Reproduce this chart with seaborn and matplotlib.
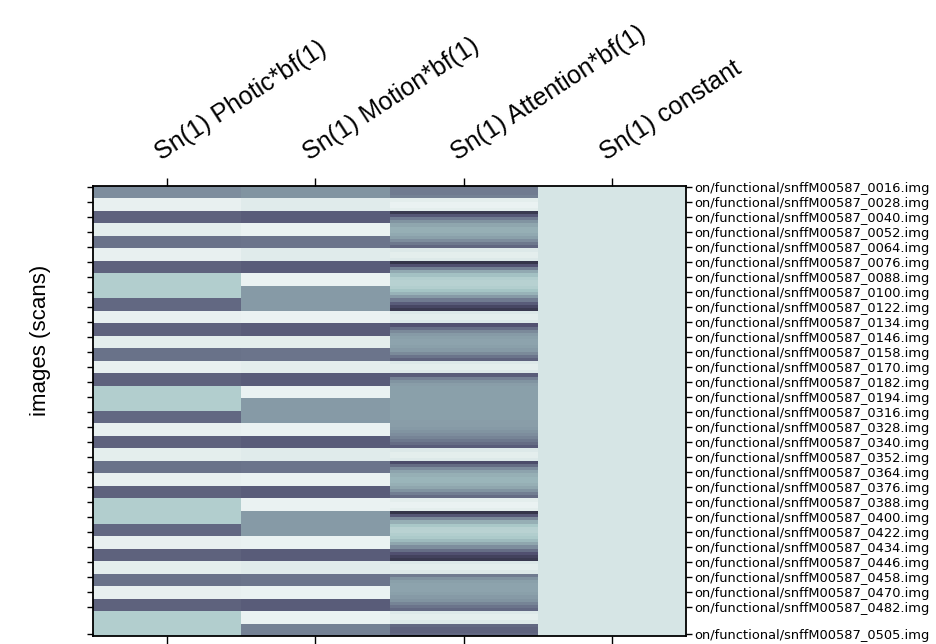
import numpy as np
import pandas as pd
import seaborn as sns
import matplotlib
matplotlib.use("Agg")
import matplotlib.pyplot as plt
from matplotlib.transforms import ScaledTranslation

# SPM design matrix: 4 regressors, 36 blocks of 10 scans
columns = ["Sn(1) Photic*bf(1)", "Sn(1) Motion*bf(1)",
           "Sn(1) Attention*bf(1)", "Sn(1) constant"]

# one value per block (bone colour scale 0..1)
photic = [0.56, 0.93, 0.42, 0.92, 0.47, 0.93, 0.42, 0.78, 0.78, 0.44,
          0.93, 0.42, 0.92, 0.47, 0.93, 0.42, 0.78, 0.78, 0.44, 0.93,
          0.42, 0.92, 0.47, 0.93, 0.42, 0.78, 0.78, 0.44, 0.93, 0.42,
          0.92, 0.47, 0.93, 0.42, 0.78, 0.78]
motion = [0.58, 0.91, 0.40, 0.94, 0.48, 0.91, 0.40, 0.94, 0.60, 0.60,
          0.94, 0.40, 0.92, 0.48, 0.92, 0.40, 0.94, 0.60, 0.60, 0.94,
          0.40, 0.91, 0.48, 0.94, 0.40, 0.94, 0.60, 0.60, 0.94, 0.40,
          0.91, 0.48, 0.94, 0.40, 0.94, 0.52]
# attention is smoother, 4 values per block
attention = [0.50, 0.50, 0.50, 0.52,  0.92, 0.94, 0.94, 0.92,
             0.26, 0.38, 0.50, 0.58,  0.64, 0.67, 0.67, 0.65,
             0.62, 0.56, 0.49, 0.43,  0.90, 0.92, 0.92, 0.90,
             0.24, 0.36, 0.52, 0.65,  0.73, 0.78, 0.79, 0.79,
             0.78, 0.74, 0.68, 0.60,  0.50, 0.40, 0.32, 0.26,
             0.90, 0.92, 0.92, 0.90,  0.36, 0.46, 0.55, 0.60,
             0.62, 0.63, 0.63, 0.62,  0.60, 0.55, 0.48, 0.42,
             0.90, 0.92, 0.92, 0.90,  0.40, 0.52, 0.58, 0.61,
             0.62, 0.62, 0.62, 0.62,  0.62, 0.62, 0.62, 0.62,
             0.62, 0.62, 0.62, 0.61,  0.61, 0.60, 0.58, 0.56,
             0.53, 0.49, 0.45, 0.40,  0.90, 0.92, 0.92, 0.90,
             0.34, 0.45, 0.56, 0.63,  0.67, 0.69, 0.69, 0.67,
             0.64, 0.58, 0.51, 0.45,  0.92, 0.94, 0.94, 0.92,
             0.24, 0.38, 0.55, 0.67,  0.75, 0.79, 0.80, 0.78,
             0.76, 0.71, 0.64, 0.56,  0.46, 0.36, 0.30, 0.26,
             0.90, 0.92, 0.92, 0.90,  0.50, 0.58, 0.62, 0.63,
             0.63, 0.63, 0.62, 0.60,  0.58, 0.53, 0.48, 0.44,
             0.90, 0.92, 0.92, 0.90,  0.44, 0.42, 0.42, 0.44]
constant = 0.88

scan_labels = ["0016", "0028", "0040", "0052", "0064", "0076", "0088", "0100",
               "0122", "0134", "0146", "0158", "0170", "0182", "0194", "0316",
               "0328", "0340", "0352", "0364", "0376", "0388", "0400", "0422",
               "0434", "0446", "0458", "0470", "0482", "0505"]

sub = 4  # rows per block
df = pd.DataFrame({
    columns[0]: np.repeat(photic, sub),
    columns[1]: np.repeat(motion, sub),
    columns[2]: attention,
    columns[3]: constant,
})

fig = plt.figure(figsize=(9.36, 6.44), dpi=100)
ax = fig.add_axes([93 / 936, 1 - 636 / 644, (686 - 93) / 936, (636 - 186) / 644])
sns.heatmap(df, cmap="bone", vmin=0, vmax=1, cbar=False, ax=ax,
            xticklabels=True, yticklabels=False)

for s in ax.spines.values():
    s.set_visible(True)
    s.set_linewidth(1.3)
    s.set_color("black")

# x ticks on top with slanted labels
ax.xaxis.tick_top()
ax.tick_params(axis="x", top=True, bottom=True, labeltop=True, labelbottom=False,
               direction="out", length=6, width=1, pad=12)
for lab in ax.get_xticklabels():
    lab.set_rotation(33)
    lab.set_ha("left")
    lab.set_va("baseline")
    lab.set_rotation_mode("anchor")
    lab.set_fontsize(18)
    lab.set_family("Liberation Sans")
    lab.set_transform(lab.get_transform() + ScaledTranslation(-0.06, 0, fig.dpi_scale_trans))

# scan ticks every 12 scans (10 scans per block)
scan_pos = list(range(0, 337, 12)) + [358]
ytick_pos = [(p + 0.5) / 10 * sub for p in scan_pos]
ax.set_yticks(ytick_pos)
ax.set_yticklabels(["on/functional/snffM00587_" + s + ".img" for s in scan_labels])
ax.tick_params(axis="y", left=True, right=True, labelleft=False, labelright=True,
               direction="out", length=4, width=1, pad=2, labelsize=9.4)
ax.set_ylabel("")

fig.text(41 / 936, 1 - 340 / 644, "images (scans)", rotation=90, fontsize=16,
         family="Liberation Sans", ha="center", va="center")

fig.savefig("out.png", dpi=100, facecolor="white")
